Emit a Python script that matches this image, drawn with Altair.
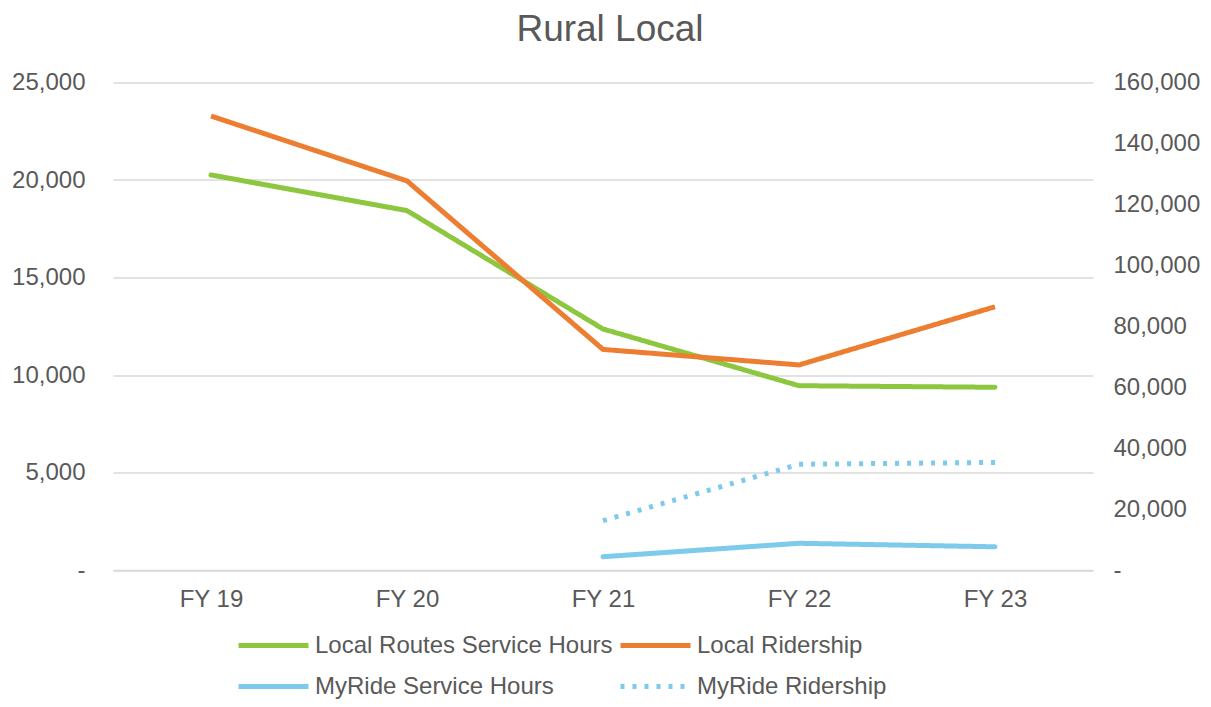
import altair as alt
import pandas as pd

years = ["FY 19", "FY 20", "FY 21", "FY 22", "FY 23"]
local_hours = [20260, 18430, 12360, 9450, 9370]
local_riders = [149000, 127700, 72400, 67300, 86400]
myride_hours = [None, None, 680, 1370, 1190]
myride_riders = [None, None, 16200, 34700, 35300]

series_names = ["Local Routes Service Hours", "Local Ridership",
                "MyRide Service Hours", "MyRide Ridership"]
series_colors = ["#8DC63F", "#ED7D31", "#7DCAEC", "#7DCAEC"]
series_dash = [[1, 0], [1, 0], [1, 0], [4, 8]]

rows = []
for name, vals, side in [(series_names[0], local_hours, "left"),
                         (series_names[1], local_riders, "right"),
                         (series_names[2], myride_hours, "left"),
                         (series_names[3], myride_riders, "right")]:
    for y, v in zip(years, vals):
        if v is not None:
            rows.append({"year": y, "series": name, "value": v, "side": side})
df = pd.DataFrame(rows)

FONT = "Liberation Sans"
TXT = "#595959"

x_enc = alt.X("year:N", sort=years, title=None,
              scale=alt.Scale(padding=0.5),
              axis=alt.Axis(labelAngle=0, ticks=False, domainColor="#d9d9d9",
                            domainWidth=1.5, labelPadding=17, grid=False))
color_enc = alt.Color("series:N", scale=alt.Scale(domain=series_names, range=series_colors),
                      title=None,
                      legend=alt.Legend(orient="none", legendX=123, legendY=551,
                                        columns=2, direction="horizontal",
                                        symbolType="stroke", symbolSize=4900,
                                        symbolStrokeWidth=5, labelFontSize=24,
                                        labelColor=TXT, labelFont=FONT, labelLimit=0,
                                        clipHeight=24,
                                        columnPadding=5, rowPadding=17,
                                        labelOffset=4, padding=0))
dash_enc = alt.StrokeDash("series:N", scale=alt.Scale(domain=series_names, range=series_dash),
                          title=None, legend=None)

left = alt.Chart(df).transform_filter(alt.datum.side == "left").mark_line(
    strokeWidth=5, strokeCap="round", strokeJoin="round"
).encode(
    x=x_enc,
    y=alt.Y("value:Q", title=None,
            scale=alt.Scale(domain=[0, 25000], nice=False),
            axis=alt.Axis(values=[0, 5000, 10000, 15000, 20000, 25000],
                          labelExpr="datum.value == 0 ? '-\u00a0\u00a0' : format(datum.value, ',')",
                          ticks=False, domain=False, grid=True, gridColor="#d9d9d9",
                          gridWidth=1.5, labelPadding=28)),
    color=color_enc,
    strokeDash=dash_enc,
)

right = alt.Chart(df).transform_filter(alt.datum.side == "right").mark_line(
    strokeWidth=5, strokeJoin="round"
).encode(
    x=x_enc,
    y=alt.Y("value:Q", title=None,
            scale=alt.Scale(domain=[0, 160000], nice=False),
            axis=alt.Axis(orient="right", values=list(range(0, 160001, 20000)),
                          labelExpr="datum.value == 0 ? '-' : format(datum.value, ',')",
                          ticks=False, domain=False, grid=False, labelPadding=20)),
    color=color_enc,
    strokeDash=dash_enc,
)

chart = alt.layer(left, right).resolve_scale(y="independent").properties(
    width=980, height=487.5,
    autosize=alt.AutoSizeParams(type="none"),
    padding={"left": 105, "top": 74.5, "right": 110, "bottom": 129},
    title=alt.TitleParams("Rural Local", fontSize=37, font=FONT, color=TXT,
                          fontWeight="normal", anchor="middle", offset=22, dx=7),
).configure_view(stroke=None).configure_axis(
    labelFont=FONT, labelFontSize=24, labelColor=TXT
)

chart.save("out.html", embed_options={"renderer": "svg", "actions": False})
